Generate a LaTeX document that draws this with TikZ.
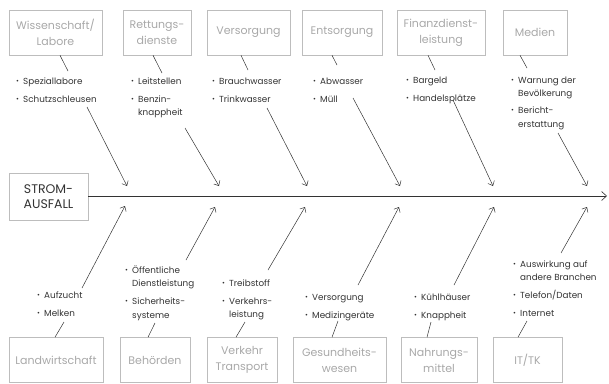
\documentclass[tikz,border=0pt]{standalone}
\usepackage{fontspec}
\setmainfont{Poppins}
\usetikzlibrary{arrows.meta}
\definecolor{boxline}{HTML}{BDBDBD}
\definecolor{boxtext}{HTML}{A8A8A8}
\definecolor{ink}{HTML}{333333}
\newcommand{\bi}{\makebox[7pt][l]{\raisebox{0.6pt}{\fontsize{7}{7}\selectfont\textbullet}}}
\newcommand{\ind}{\hspace*{7pt}}
\newcommand{\blist}[1]{\begin{tabular}[t]{@{}l@{}}#1\end{tabular}}
\begin{document}
\begin{tikzpicture}[x=1pt,y=-1pt,
  cat/.style={draw=boxline, line width=0.6pt, text=boxtext, align=center,
    font=\fontsize{11}{16}\selectfont, inner sep=0pt, minimum height=45pt},
  root/.style={draw=boxline, line width=0.6pt, text=ink, align=center,
    font=\fontsize{12.5}{15.5}\selectfont, inner sep=0pt},
  items/.style={anchor=base west, inner sep=0pt, text=ink,
    font=\fontsize{8.8}{13.5}\selectfont},
  arr/.style={draw=ink, line width=0.5pt, -{Straight Barb[length=4pt,width=7pt]}},
  tick/.style={draw=ink, line width=0.5pt}]
\useasboundingbox (0,0) rectangle (609,383);
% top category boxes
\node[cat, minimum width=93pt] (W) at (55.5,32.5) {Wissenschaft/\\Labore};
\node[cat, minimum width=68pt] (R) at (157,32.5) {Rettungs-\\dienste};
\node[cat, minimum width=83pt] (V) at (248.5,32.5) {Versorgung};
\node[cat, minimum width=80pt] (E) at (342,32.5) {Entsorgung};
\node[cat, minimum width=88pt] (F) at (441,32.5) {Finanzdienst-\\leistung};
\node[cat, minimum width=64pt] (M) at (535,32.5) {Medien};
% bottom category boxes
\node[cat, minimum width=94pt] (L) at (56,360) {Landwirtschaft};
\node[cat, minimum width=70pt] (B) at (155,360) {Behörden};
\node[cat, minimum width=70pt] (T) at (242,360) {Verkehr\\Transport};
\node[cat, minimum width=93pt] (G) at (339.5,360) {Gesundheits-\\wesen};
\node[cat, minimum width=76pt] (N) at (439,360) {Nahrungs-\\mittel};
\node[cat, minimum width=69pt] (I) at (527.5,360) {IT/TK};
% root
\node[root, minimum width=79pt, minimum height=47pt] (S) at (48.5,196.5) {STROM-\\AUSFALL};
\coordinate (end) at (607,196);
\draw[draw=ink, line width=0.6pt, -{Straight Barb[length=5pt,width=9pt]}] (S.east |- end) -- (end);
% top item lists
\node[items] (Wi) at (16,84) {\blist{\bi Speziallabore\\[4.5pt]\bi Schutzschleusen}};
\node[items] (Ri) at (131,84) {\blist{\bi Leitstellen\\[4.5pt]\bi Benzin-\\\ind knappheit}};
\node[items] (Vi) at (212,84) {\blist{\bi Brauchwasser\\[4.5pt]\bi Trinkwasser}};
\node[items] (Ei) at (313,84) {\blist{\bi Abwasser\\[4.5pt]\bi Müll}};
\node[items] (Fi) at (406,83) {\blist{\bi Bargeld\\[4.5pt]\bi Handelsplätze}};
\node[items] (Mi) at (511,83) {\blist{\bi Warnung der\\\ind Bevölkerung\\[3.5pt]\bi Bericht-\\\ind erstattung}};
% bottom item lists
\node[items] (Li) at (37,298) {\blist{\bi Aufzucht\\[4.5pt]\bi Melken}};
\node[items] (Bi) at (125,273) {\blist{\bi Öffentliche\\\ind Dienstleistung\\[4.5pt]\bi Sicherheits-\\\ind systeme}};
\node[items] (Ti) at (222,286) {\blist{\bi Treibstoff\\[4.5pt]\bi Verkehrs-\\\ind leistung}};
\node[items] (Gi) at (305,300) {\blist{\bi Versorgung\\[4.5pt]\bi Medizingeräte}};
\node[items] (Ni) at (414,300) {\blist{\bi Kühlhäuser\\[4.5pt]\bi Knappheit}};
\node[items] (Ii) at (513,267) {\blist{\bi Auswirkung auf\\\ind andere Branchen\\[4.5pt]\bi Telefon/Daten\\[4.5pt]\bi Internet}};
% tick lines box -> list (top)
\coordinate (Wt) at (68,71);  \draw[tick] (W.south -| 60,0) -- (Wt);
\coordinate (Rt) at (162,73); \draw[tick] (R.south -| 153,0) -- (Rt);
\coordinate (Vt) at (248,70); \draw[tick] (V.south -| 241,0) -- (Vt);
\coordinate (Et) at (337,65); \draw[tick] (E.south -| 332,0) -- (Et);
\coordinate (Ft) at (435,70); \draw[tick] (F.south -| 428,0) -- (Ft);
\coordinate (Mt) at (527,68); \draw[tick] (M.south -| 520,0) -- (Mt);
% tick lines box -> list (bottom)
\coordinate (Lt) at (64,322);  \draw[tick] (L.north -| 55,0) -- (Lt);
\coordinate (Bt) at (155,323); \draw[tick] (B.north -| 148,0) -- (Bt);
\coordinate (Tt) at (245,322); \draw[tick] (T.north -| 236,0) -- (Tt);
\coordinate (Gt) at (338,321); \draw[tick] (G.north -| 332,0) -- (Gt);
\coordinate (Nt) at (431,322); \draw[tick] (N.north -| 427,0) -- (Nt);
\coordinate (It) at (527,321); \draw[tick] (I.north -| 518,0) -- (It);
% top arrows list -> spine
\coordinate (Wa) at (87,107);  \coordinate (Wb) at (127,186); \draw[arr] (Wa) -- (Wb);
\coordinate (Ra) at (185,128); \coordinate (Rb) at (219,186); \draw[arr] (Ra) -- (Rb);
\coordinate (Va) at (267,108); \coordinate (Vb) at (307,186); \draw[arr] (Va) -- (Vb);
\coordinate (Ea) at (353,98);  \coordinate (Eb) at (400,186); \draw[arr] (Ea) -- (Eb);
\coordinate (Fa) at (453,100); \coordinate (Fb) at (493,186); \draw[arr] (Fa) -- (Fb);
\coordinate (Ma) at (558,133); \coordinate (Mb) at (587,186); \draw[arr] (Ma) -- (Mb);
% bottom arrows list -> spine
\coordinate (La) at (82,288);  \coordinate (Lb) at (125,206); \draw[arr] (La) -- (Lb);
\coordinate (Ba) at (186,260); \coordinate (Bb) at (215,207); \draw[arr] (Ba) -- (Bb);
\coordinate (Ta) at (268,270); \coordinate (Tb) at (305,207); \draw[arr] (Ta) -- (Tb);
\coordinate (Ga) at (358,285); \coordinate (Gb) at (399,207); \draw[arr] (Ga) -- (Gb);
\coordinate (Na) at (454,285); \coordinate (Nb) at (494,207); \draw[arr] (Na) -- (Nb);
\coordinate (Ia) at (561,253); \coordinate (Ib) at (587,207); \draw[arr] (Ia) -- (Ib);
\end{tikzpicture}
\end{document}
